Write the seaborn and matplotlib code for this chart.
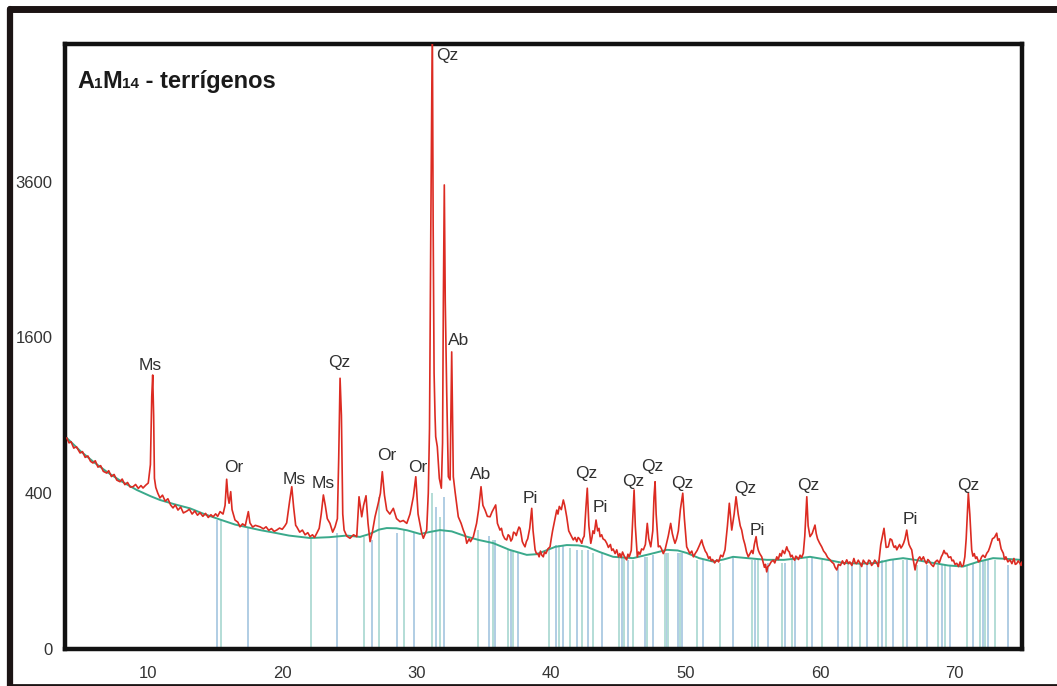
import numpy as np
import pandas as pd
import matplotlib.pyplot as plt
import seaborn as sns
from matplotlib.lines import Line2D
from matplotlib.ticker import MultipleLocator
from matplotlib.offsetbox import TextArea, HPacker, AnchoredOffsetbox

# ============================================
# Data (2-theta in degrees, intensity in counts)
# ============================================
pattern = [
    (3.98, 734), (4.15, 700), (4.3, 708), (4.5, 665), (4.7, 674), (4.97, 633), (5.15, 642), (5.35, 605), (5.55, 614), (5.75, 580),
    (5.93, 570), (6.1, 584), (6.3, 545), (6.5, 554), (6.7, 520), (6.95, 510), (7.1, 524), (7.3, 490), (7.5, 502), (7.7, 470),
    (7.94, 461), (8.1, 476), (8.3, 445), (8.5, 457), (8.7, 432), (8.91, 434), (9.1, 446), (9.3, 425), (9.5, 440), (9.65, 427),
    (9.85, 442), (10.04, 454), (10.2, 560), (10.3, 1050), (10.37, 1237), (10.44, 900), (10.5, 480), (10.6, 430), (10.75, 400), (10.91, 376),
    (11.1, 390), (11.3, 360), (11.5, 372), (11.7, 342), (11.88, 328), (12.05, 342), (12.25, 318), (12.45, 332), (12.65, 305), (12.9, 313),
    (13.1, 322), (13.3, 300), (13.5, 314), (13.7, 295), (13.89, 306), (14.1, 290), (14.3, 303), (14.5, 285), (14.7, 297), (14.86, 288),
    (15.05, 301), (15.2, 290), (15.38, 311), (15.6, 300), (15.75, 340), (15.87, 475), (15.97, 380), (16.05, 350), (16.17, 408), (16.27, 320),
    (16.49, 274), (16.7, 265), (16.86, 246), (17.05, 258), (17.25, 250), (17.48, 311), (17.6, 262), (17.8, 245), (18.0, 252), (18.35, 246),
    (18.6, 238), (18.8, 246), (19.0, 232), (19.2, 239), (19.4, 228), (19.59, 233), (19.8, 241), (20.0, 236), (20.2, 250), (20.33, 262),
    (20.55, 360), (20.71, 434), (20.85, 330), (21.0, 252), (21.08, 246), (21.3, 225), (21.5, 233), (21.7, 215), (21.9, 223), (22.07, 208),
    (22.25, 215), (22.4, 205), (22.57, 221), (22.75, 240), (22.9, 300), (23.06, 391), (23.2, 340), (23.35, 280), (23.55, 260), (23.75, 225),
    (23.93, 246), (24.1, 280), (24.2, 600), (24.3, 1208), (24.4, 900), (24.5, 300), (24.6, 233), (24.8, 210), (25.04, 202), (25.3, 215),
    (25.54, 208), (25.71, 382), (25.91, 288), (26.05, 340), (26.23, 387), (26.38, 260), (26.53, 190), (26.7, 225), (26.9, 288), (27.14, 350),
    (27.3, 400), (27.44, 518), (27.6, 390), (27.77, 318), (28.0, 300), (28.26, 326), (28.5, 280), (28.76, 267), (29.0, 272), (29.26, 260),
    (29.5, 300), (29.75, 382), (29.93, 489), (30.1, 300), (30.37, 221), (30.49, 202), (30.6, 215), (30.74, 233), (30.86, 400), (30.95, 800),
    (31.05, 3000), (31.16, 6500), (31.22, 3000), (31.29, 1255), (31.36, 900), (31.41, 743), (31.53, 674), (31.68, 480), (31.83, 426), (31.92, 700),
    (31.98, 2000), (32.05, 3548), (32.12, 2000), (32.23, 1077), (32.35, 489), (32.48, 471), (32.54, 900), (32.6, 1454), (32.66, 900), (32.72, 489),
    (32.85, 408), (33.09, 288), (33.3, 260), (33.46, 233), (33.6, 215), (33.72, 184), (33.9, 200), (34.0, 190), (34.21, 208), (34.45, 260),
    (34.6, 320), (34.78, 434), (34.92, 340), (35.08, 318), (35.25, 290), (35.45, 288), (35.6, 310), (35.87, 342), (36.0, 260), (36.19, 233),
    (36.3, 240), (36.4, 215), (36.55, 200), (36.69, 196), (36.8, 215), (36.9, 210), (37.0, 192), (37.1, 200), (37.2, 225), (37.31, 221),
    (37.4, 212), (37.5, 230), (37.6, 245), (37.68, 240), (37.77, 215), (37.85, 190), (37.95, 180), (38.05, 172), (38.15, 190), (38.25, 200),
    (38.4, 240), (38.55, 326), (38.65, 230), (38.8, 162), (38.9, 150), (39.0, 150), (39.1, 140), (39.2, 158), (39.3, 145), (39.41, 140),
    (39.5, 155), (39.6, 150), (39.75, 165), (39.91, 172), (40.0, 200), (40.1, 230), (40.25, 270), (40.41, 318), (40.5, 300), (40.6, 335),
    (40.75, 320), (40.9, 366), (41.0, 340), (41.15, 288), (41.3, 230), (41.45, 215), (41.64, 196), (41.77, 205), (41.9, 190), (42.0, 205),
    (42.1, 200), (42.2, 190), (42.27, 184), (42.35, 200), (42.45, 210), (42.58, 330), (42.68, 426), (42.8, 250), (42.94, 184), (43.03, 205),
    (43.1, 230), (43.2, 220), (43.33, 274), (43.45, 230), (43.55, 240), (43.63, 208), (43.75, 215), (43.85, 200), (44.0, 195), (44.13, 184),
    (44.25, 170), (44.4, 180), (44.5, 160), (44.6, 165), (44.75, 150), (44.87, 162), (45.0, 140), (45.1, 150), (45.2, 138), (45.3, 155),
    (45.45, 140), (45.61, 131), (45.7, 148), (45.8, 140), (45.88, 150), (45.95, 160), (46.08, 300), (46.16, 417), (46.25, 250), (46.4, 140),
    (46.5, 155), (46.6, 148), (46.72, 165), (46.85, 162), (47.0, 180), (47.14, 260), (47.25, 200), (47.4, 172), (47.55, 230), (47.64, 380),
    (47.72, 461), (47.8, 300), (47.96, 172), (48.08, 175), (48.2, 165), (48.33, 150), (48.46, 162), (48.58, 185), (48.7, 210), (48.88, 260),
    (49.0, 220), (49.1, 200), (49.2, 184), (49.32, 200), (49.45, 230), (49.6, 320), (49.78, 400), (49.9, 280), (50.07, 172), (50.2, 160),
    (50.3, 150), (50.45, 158), (50.57, 140), (50.7, 150), (50.85, 160), (51.0, 175), (51.19, 196), (51.27, 180), (51.35, 170), (51.45, 158),
    (51.56, 151), (51.7, 135), (51.8, 140), (51.9, 128), (52.0, 132), (52.15, 122), (52.31, 131), (52.45, 125), (52.6, 145), (52.75, 140),
    (52.92, 162), (53.1, 250), (53.24, 350), (53.42, 233), (53.6, 300), (53.74, 382), (53.9, 300), (54.05, 250), (54.16, 233), (54.28, 200),
    (54.4, 180), (54.52, 155), (54.65, 140), (54.78, 150), (54.9, 160), (55.0, 150), (55.1, 180), (55.23, 208), (55.32, 175), (55.4, 160),
    (55.5, 150), (55.65, 140), (55.75, 125), (55.85, 110), (55.93, 118), (56.02, 98), (56.1, 112), (56.2, 115), (56.35, 125), (56.5, 130),
    (56.62, 122), (56.77, 140), (56.88, 132), (57.0, 150), (57.1, 142), (57.2, 160), (57.35, 150), (57.51, 172), (57.6, 160), (57.7, 155),
    (57.8, 140), (57.9, 145), (58.0, 135), (58.1, 130), (58.18, 142), (58.25, 140), (58.38, 132), (58.5, 145), (58.62, 138), (58.74, 151),
    (58.85, 210), (59.0, 382), (59.1, 250), (59.24, 208), (59.4, 220), (59.5, 235), (59.61, 253), (59.7, 220), (59.8, 200), (59.95, 185),
    (60.11, 172), (60.25, 158), (60.4, 150), (60.55, 138), (60.73, 131), (60.85, 125), (61.0, 120), (61.1, 110), (61.23, 103), (61.35, 118),
    (61.5, 115), (61.65, 128), (61.8, 118), (61.97, 131), (62.1, 120), (62.2, 125), (62.35, 115), (62.5, 135), (62.6, 122), (62.7, 120),
    (62.83, 130), (62.96, 121), (63.08, 112), (63.2, 130), (63.35, 122), (63.5, 118), (63.6, 130), (63.7, 128), (63.82, 115), (63.95, 121),
    (64.05, 130), (64.15, 125), (64.25, 118), (64.32, 112), (64.5, 180), (64.74, 240), (64.9, 170), (65.06, 172), (65.2, 200), (65.32, 196),
    (65.42, 178), (65.5, 170), (65.6, 175), (65.69, 162), (65.8, 172), (65.9, 180), (66.0, 168), (66.1, 175), (66.2, 185), (66.3, 200),
    (66.43, 233), (66.52, 200), (66.6, 180), (66.7, 170), (66.8, 162), (66.92, 130), (67.05, 103), (67.12, 118), (67.2, 125), (67.3, 135),
    (67.4, 140), (67.52, 130), (67.67, 140), (67.78, 128), (67.9, 120), (68.0, 132), (68.1, 128), (68.25, 118), (68.41, 112), (68.55, 125),
    (68.7, 130), (68.85, 122), (69.0, 140), (69.1, 148), (69.2, 160), (69.3, 150), (69.41, 151), (69.55, 138), (69.7, 140), (69.8, 128),
    (69.9, 130), (70.02, 118), (70.15, 121), (70.28, 112), (70.4, 125), (70.52, 112), (70.64, 116), (70.75, 140), (70.85, 200), (71.01, 400),
    (71.12, 300), (71.26, 162), (71.35, 142), (71.45, 150), (71.55, 135), (71.64, 140), (71.77, 125), (71.9, 130), (72.0, 140), (72.1, 145),
    (72.25, 138), (72.38, 151), (72.5, 158), (72.6, 170), (72.7, 185), (72.8, 200), (72.95, 205), (73.12, 221), (73.2, 195), (73.3, 200),
    (73.45, 165), (73.61, 151), (73.7, 132), (73.8, 140), (73.95, 125), (74.11, 131), (74.25, 120), (74.4, 135), (74.5, 118), (74.6, 120),
    (74.72, 128), (74.85, 121), (74.93, 115), (75.0, 125),
]

background = [
    (3.98, 734), (5.0, 645), (6.0, 575), (7.0, 515), (8.0, 465), (9.18, 417), (10.2, 385), (10.91, 366), (12.0, 345), (13.14, 326),
    (14.2, 300), (15.38, 276), (16.5, 255), (17.5, 243), (18.35, 233), (19.5, 222), (20.5, 212), (22.07, 203), (23.5, 206), (24.8, 212),
    (25.78, 207), (26.5, 218), (27.2, 235), (27.77, 241), (28.5, 240), (29.3, 232), (30.25, 218), (31.0, 226), (31.73, 233), (32.6, 228),
    (33.72, 208), (34.6, 196), (35.67, 185), (36.9, 162), (38.18, 146), (38.9, 148), (39.5, 158), (40.3, 172), (41.15, 178), (42.0, 177),
    (42.64, 172), (43.6, 155), (44.6, 140), (46.08, 136), (47.3, 148), (48.59, 162), (49.4, 160), (50.07, 152), (51.0, 136), (52.03, 126),
    (52.8, 132), (53.52, 140), (54.6, 136), (56.02, 131), (57.3, 131), (58.5, 136), (59.24, 140), (60.4, 132), (61.7, 122), (63.0, 120),
    (64.2, 122), (65.2, 131), (66.16, 136), (67.2, 130), (68.39, 122), (69.5, 115), (70.62, 112), (71.7, 125), (72.85, 136), (73.8, 134),
    (74.86, 131),
]

# reference lines of the identified phases (position, height)
sticks = [
    (15.13, 274), (15.43, 274), (17.43, 245), (22.12, 207), (24.10, 222), (26.08, 207), (26.65, 196), (27.22, 380), (28.51, 221), (29.06, 233),
    (29.80, 221), (31.12, 400), (31.44, 334), (31.73, 288), (32.05, 382), (34.58, 233), (35.40, 210), (35.65, 196), (35.82, 196), (36.81, 162),
    (37.01, 162), (37.18, 162), (37.55, 151), (39.86, 162), (40.36, 178), (40.60, 178), (40.90, 178), (41.40, 168), (41.90, 162), (42.27, 162),
    (42.76, 162), (43.13, 151), (43.75, 151), (45.06, 140), (45.24, 140), (45.41, 140), (45.73, 131), (46.10, 131), (46.97, 140), (47.14, 140),
    (47.55, 146), (48.46, 151), (48.59, 151), (48.71, 151), (49.45, 151), (49.58, 151), (49.70, 151), (50.82, 131), (51.31, 131), (52.55, 121),
    (53.54, 140), (54.91, 131), (55.15, 131), (55.40, 131), (56.14, 121), (57.14, 121), (57.39, 121), (57.88, 131), (58.13, 131), (59.00, 140),
    (59.37, 140), (60.11, 131), (61.35, 116), (62.09, 121), (62.34, 121), (62.96, 121), (63.46, 121), (64.32, 131), (64.57, 131), (64.89, 131),
    (65.43, 131), (66.18, 131), (66.43, 131), (67.17, 116), (67.92, 116), (68.78, 116), (69.03, 116), (69.28, 116), (69.65, 116), (70.89, 116),
    (71.38, 121), (71.88, 131), (72.08, 131), (72.25, 131), (72.50, 131), (73.00, 131), (73.99, 116),
]

# mineral labels (name, 2-theta, counts of the label centre)
labels = [
    ("Ms", 10.17, 1320), ("Or", 16.42, 540), ("Ms", 20.88, 476), ("Ms", 23.03, 449), ("Qz", 24.22, 1348),
    ("Or", 27.79, 614), ("Or", 30.10, 540), ("Qz", 32.25, 5795), ("Ab", 33.14, 1573), ("Ab", 34.78, 499),
    ("Pi", 38.42, 371), ("Qz", 42.59, 505), ("Pi", 43.63, 328), ("Qz", 46.09, 465), ("Qz", 47.49, 546),
    ("Qz", 49.72, 449), ("Qz", 54.41, 427), ("Pi", 55.30, 233), ("Qz", 59.09, 443), ("Pi", 66.68, 278),
    ("Qz", 70.99, 443),
]

y_ticks = [0, 400, 1600, 3600]
x_ticks = [10, 20, 30, 40, 50, 60, 70]

df_pat = pd.DataFrame(pattern, columns=["two_theta", "counts"])
df_bg = pd.DataFrame(background, columns=["two_theta", "counts"])
df_st = pd.DataFrame(sticks, columns=["two_theta", "counts"])

# ============================================
# Figure
# ============================================
sns.set_style("white")
plt.rcParams["font.family"] = ["Liberation Sans", "DejaVu Sans"]

fig = plt.figure(figsize=(10.57, 6.86), dpi=100)
ax = fig.add_axes([65 / 1057, 1 - 649 / 686, 957 / 1057, 605 / 686])

# square-root intensity axis
ax.set_yscale("function", functions=(lambda v: np.sqrt(np.clip(v, 0, None)), lambda v: np.square(v)))

stick_colors = ["#b0cde4", "#b3ddd6"]
ax.vlines(df_st["two_theta"], 0, df_st["counts"],
          colors=[stick_colors[i % 2] for i in range(len(df_st))], lw=1.4, zorder=1)

sns.lineplot(data=df_bg, x="two_theta", y="counts", ax=ax, color="#3aa98b",
             lw=1.4, estimator=None, sort=False, zorder=2)
sns.lineplot(data=df_pat, x="two_theta", y="counts", ax=ax, color="#dc2b22",
             lw=1.2, estimator=None, sort=False, zorder=3)

for name, xx, yy in labels:
    ax.text(xx, yy, name, ha="center", va="center", fontsize=12.5, color="#303030", zorder=4)

ax.set_xlim(3.85, 75.0)
ax.set_ylim(0, 6031)
ax.set_xticks(x_ticks)
ax.set_yticks(y_ticks)
ax.xaxis.set_minor_locator(MultipleLocator(1))
ax.set_xlabel("")
ax.set_ylabel("")

ax.tick_params(axis="x", which="major", direction="out", length=9.5, width=1.4,
               color="#222222", labelsize=12, labelcolor="#333333", pad=3)
ax.tick_params(axis="x", which="minor", direction="out", length=5, width=1.2, color="#222222")
ax.tick_params(axis="y", which="major", direction="out", length=7, width=1.0,
               color="#555555", labelsize=12, labelcolor="#333333", pad=2)

for sp in ax.spines.values():
    sp.set_visible(True)
    sp.set_color("#111111")
    sp.set_linewidth(3.2)

# title with small digits
parts = [("A", 17), ("1", 11), ("M", 17), ("14", 11), (" - terrígenos", 17)]
boxes = [TextArea(t, textprops=dict(fontsize=s, fontweight="bold", color="#1a1a1a")) for t, s in parts]
title = HPacker(children=boxes, align="baseline", pad=0, sep=0)
anch = AnchoredOffsetbox(loc="upper left", child=title, pad=0, borderpad=0, frameon=False,
                         bbox_to_anchor=(0.0125, 0.957), bbox_transform=ax.transAxes)
ax.add_artist(anch)

# outer frame of the figure
frame_col = "#1c1414"
fig.add_artist(Line2D([10 / 1057, 10 / 1057], [0, 1 - 8.5 / 686], transform=fig.transFigure, color=frame_col, lw=4.5))
fig.add_artist(Line2D([10 / 1057, 1], [1 - 8.5 / 686, 1 - 8.5 / 686], transform=fig.transFigure, color=frame_col, lw=5))
fig.add_artist(Line2D([10 / 1057, 1], [1 / 686, 1 / 686], transform=fig.transFigure, color=frame_col, lw=2))

fig.savefig("out.png", dpi=100)
